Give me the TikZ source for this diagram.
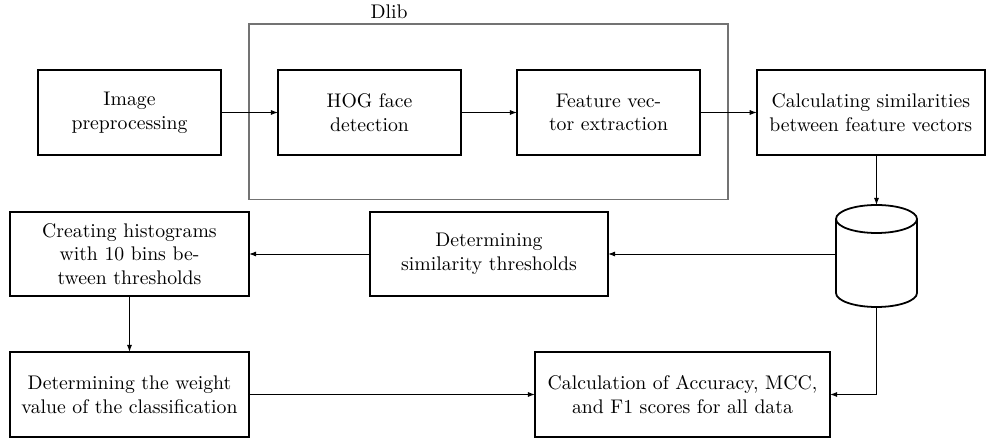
\documentclass[tikz,border=0pt]{standalone}
\usetikzlibrary{arrows.meta,positioning}
\begin{document}
\begin{tikzpicture}[x=0.5071pt,y=-0.5071pt,
  box/.style={draw=black,line width=0.9pt,align=center,inner sep=0pt,outer sep=0pt,
    font=\fontsize{10}{12}\selectfont},
  flow/.style={line width=0.5pt,-{Latex[length=3.6pt,width=2.6pt]}},
  group/.style={draw=black!55,line width=0.55pt,inner sep=0pt,outer sep=0pt}]
\useasboundingbox (0,0) rectangle (986,441);

% Dlib group frame and its title
\node[group,minimum width=242.9pt,minimum height=89.2pt] (dlib) at (488.5,112) {};
\node (dlibtitle) at (389,12) {Dlib};

% top row
\node[box,minimum width=92.8pt,minimum height=43.1pt] (pre) at (129.5,112.5) {Image\\preprocessing};
\node[box,minimum width=92.8pt,minimum height=43.1pt] (hog) at (369.5,112.5) {HOG face\\detection};
\node[box,minimum width=92.8pt,minimum height=43.1pt] (fve) at (608.5,112.5) {Feature vec-\\tor extraction};
\node[box,minimum width=115.6pt,minimum height=43.1pt] (sim) at (870.8,112.5) {Calculating similarities\\between feature vectors};

% middle row
\node[box,minimum width=121.2pt,minimum height=42.6pt] (hist) at (129.5,254) {Creating histograms\\with 10 bins be-\\tween thresholds};
\node[box,minimum width=120.7pt,minimum height=42.6pt] (thr) at (489,254) {Determining\\similarity thresholds};

% database cylinder
\node[inner sep=0pt,outer sep=0pt,minimum width=41.1pt,minimum height=51.7pt] (db) at (876.5,256) {};
\draw[line width=0.9pt,fill=white]
  (836,219) -- (836,293) arc[start angle=180,end angle=0,x radius=40.5,y radius=14]
  -- (917,219);
\draw[line width=0.9pt] (876.5,219) ellipse[x radius=40.5,y radius=14];

% bottom row
\node[box,minimum width=121.2pt,minimum height=43.1pt] (wgt) at (129.5,394.5) {Determining the weight\\value of the classification};
\node[box,minimum width=149.6pt,minimum height=43.1pt] (acc) at (682.5,394.5) {Calculation of Accuracy, MCC,\\and F1 scores for all data};

% connectors
\draw[flow] (pre.east) -- (hog.west);
\draw[flow] (hog.east) -- (fve.west);
\draw[flow] (fve.east) -- (sim.west);
\draw[flow] (db.north |- sim.south) -- (db.north);
\draw[flow] (db.west |- thr.east) -- (thr.east);
\draw[flow] (thr.west) -- (hist.east);
\draw[flow] (hist.south) -- (wgt.north);
\draw[flow] (wgt.east) -- (acc.west);
\draw[flow] (db.south) |- (acc.east);
\end{tikzpicture}
\end{document}
